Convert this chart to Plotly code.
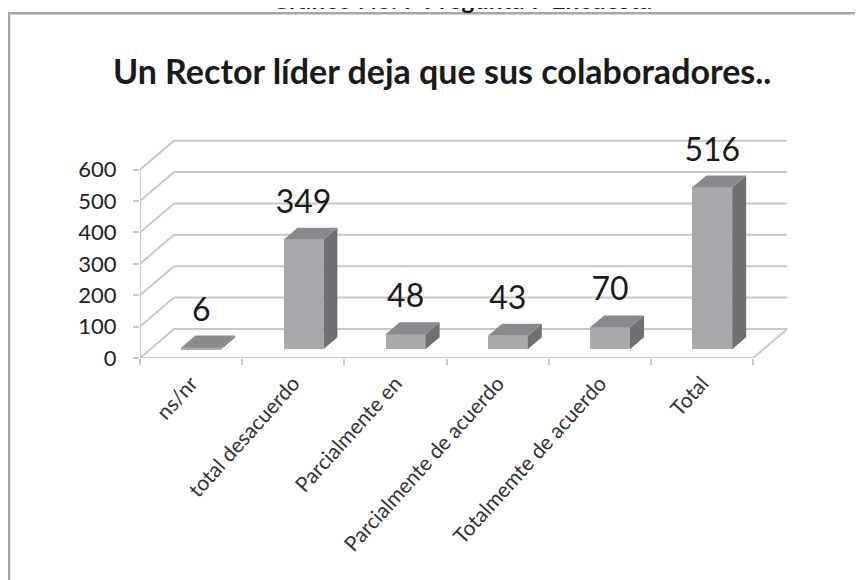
import plotly.graph_objects as go

# ---- data ----
categories = ["ns/nr", "total desacuerdo", "Parcialmente en", "Parcialmente de acuerdo",
              "Totalmemte de acuerdo", "Total"]
values = [6, 349, 48, 43, 70, 516]
y_ticks = [0, 100, 200, 300, 400, 500, 600]
title_text = "Un Rector líder deja que sus colaboradores.."
top_text = "Gráfico No. 7 Pregunta 7 Encuesta"

# ---- pseudo-3D geometry (data units) ----
DX, DV = 0.333, 92.4          # floor depth offset
F = 0.30                       # bar position within depth
BW = 0.39                      # bar width
BDX, BDV = 0.137, 38.0         # bar depth
SX, VOFF = F * DX, F * DV
n = len(categories)

FRONT = "#a8a9ac"
SIDE = "#6f7073"
TOP = "#898a8d"
GRID = "#c8c8c8"

fig = go.Figure()

centers = [i + 0.5 for i in range(n)]
xc = [c + SX for c in centers]

# front faces
fig.add_trace(go.Bar(x=xc, y=values, base=[VOFF] * n, width=BW,
                     marker=dict(color=FRONT, line=dict(width=0)),
                     hoverinfo="skip", showlegend=False))

# side and top faces
for x, v in zip(xc, values):
    xl, xr = x - BW / 2, x + BW / 2
    top = VOFF + v
    fig.add_trace(go.Scatter(
        x=[xr, xr, xr + BDX, xr + BDX, xr],
        y=[VOFF, top, top + BDV, VOFF + BDV, VOFF],
        fill="toself", fillcolor=SIDE, line=dict(width=0), mode="lines",
        hoverinfo="skip", showlegend=False))
    fig.add_trace(go.Scatter(
        x=[xl, xr, xr + BDX, xl + BDX, xl],
        y=[top, top, top + BDV, top + BDV, top],
        fill="toself", fillcolor=TOP, line=dict(width=0), mode="lines",
        hoverinfo="skip", showlegend=False))

# data labels
fig.add_trace(go.Scatter(
    x=xc, y=[VOFF + v + BDV + 22 for v in values], mode="text",
    text=[str(v) for v in values], textposition="top center",
    textfont=dict(family="Lato", size=32, color="#1a1a1a"),
    cliponaxis=False, hoverinfo="skip", showlegend=False))

# gridlines / walls / floor as shapes below traces
shapes = []
for t in y_ticks:
    shapes.append(dict(type="path", xref="x", yref="y", layer="below",
                       path=f"M 0 {t} L {DX} {t + DV} L {n + DX} {t + DV}",
                       line=dict(color=GRID, width=2)))
shapes.append(dict(type="path", xref="x", yref="y", layer="below",
                   path=f"M 0 0 L {n} 0 L {n + DX} {DV}",
                   line=dict(color=GRID, width=2)))
shapes.append(dict(type="line", xref="x", yref="y", layer="below",
                   x0=0, x1=0, y0=0, y1=y_ticks[-1],
                   line=dict(color=GRID, width=2)))
# outer frame
shapes.append(dict(type="rect", xref="paper", yref="paper",
                   x0=(9 - 140) / 654, x1=1.4, y0=-2, y1=(357.7 - 13) / 226,
                   line=dict(color="#a6a6a6", width=2.5), fillcolor="rgba(0,0,0,0)"))

fig.update_layout(
    width=863, height=580,
    margin=dict(l=132, r=77, t=124, b=230),
    paper_bgcolor="white", plot_bgcolor="white",
    shapes=shapes,
    xaxis=dict(range=[0, 6.4], tickvals=centers, ticktext=categories, tickangle=-48,
               ticks="", showgrid=False, zeroline=False, showline=False, automargin=False,
               ticklabelstandoff=8,
               tickfont=dict(family="Lato", size=21, color="#333333"),
               minor=dict(tickvals=list(range(n + 1)), ticks="outside", ticklen=6,
                          tickwidth=2, tickcolor=GRID, showgrid=False)),
    yaxis=dict(range=[0, 720], tickvals=y_ticks, ticks="outside", ticklen=6,
               tickwidth=2, tickcolor=GRID, showgrid=False, zeroline=False,
               showline=False, ticklabelstandoff=12, automargin=False,
               tickfont=dict(family="Lato", size=22, color="#222222")),
    annotations=[
        dict(text=f"<b>{title_text}</b>", xref="paper", yref="paper",
             x=(442 - 140) / 654, y=(357.7 - 92.5) / 226, xanchor="center", yanchor="bottom",
             showarrow=False, font=dict(family="Lato", size=34, color="#1a1a1a")),
        dict(text=f"<b>{top_text}</b>", xref="paper", yref="paper",
             x=(461 - 140) / 654, y=(357.7 - 15.5) / 226, xanchor="center", yanchor="bottom",
             showarrow=False, font=dict(family="Lato", size=25, color="#1a1a1a")),
    ],
    bargap=0,
)

fig.write_html("out.html")
